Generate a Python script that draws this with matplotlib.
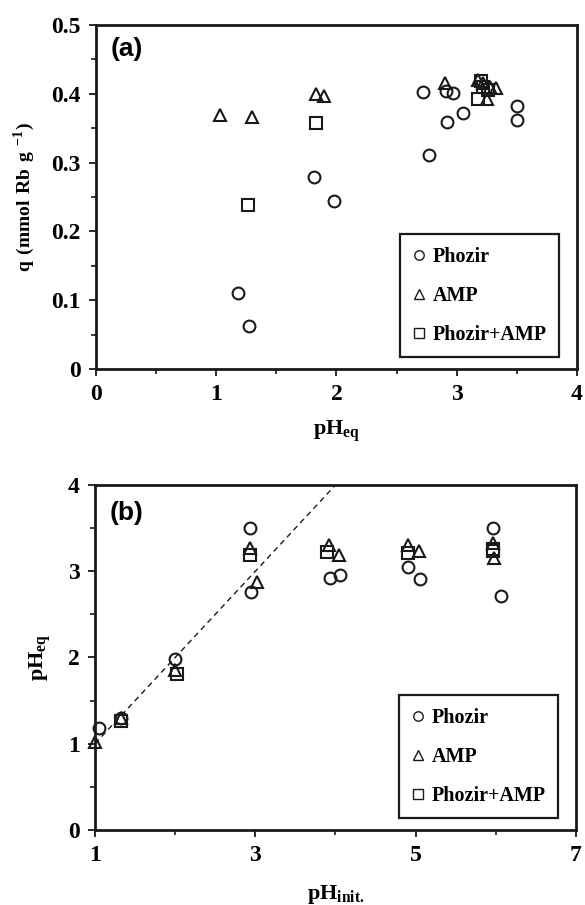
import matplotlib
matplotlib.use('Agg')
import matplotlib.pyplot as plt
from matplotlib.ticker import MultipleLocator, FixedLocator

plt.rcParams['font.family'] = ['Liberation Serif', 'DejaVu Serif']
plt.rcParams['font.weight'] = 'bold'
plt.rcParams['mathtext.fontset'] = 'custom'
plt.rcParams['mathtext.rm'] = 'Liberation Serif:bold'
plt.rcParams['mathtext.bf'] = 'Liberation Serif:bold'

# (a) uptake vs equilibrium pH
a_phozir_x = [1.18, 1.27, 1.81, 1.98, 2.72, 2.77, 2.91, 2.92, 2.97, 3.05, 3.50, 3.50]
a_phozir_y = [0.110, 0.062, 0.279, 0.244, 0.402, 0.311, 0.404, 0.359, 0.401, 0.372, 0.382, 0.362]
a_amp_x = [1.03, 1.30, 1.83, 1.90, 2.90, 3.18, 3.22, 3.28, 3.33, 3.25]
a_amp_y = [0.369, 0.366, 0.400, 0.397, 0.415, 0.420, 0.415, 0.410, 0.408, 0.392]
a_mix_x = [1.26, 1.83, 3.18, 3.22, 3.20, 3.26]
a_mix_y = [0.239, 0.358, 0.392, 0.410, 0.418, 0.405]

# (b) equilibrium pH vs initial pH
b_phozir_x = [1.05, 1.33, 2.00, 2.93, 2.95, 3.93, 4.06, 4.90, 5.05, 5.96, 6.06]
b_phozir_y = [1.18, 1.30, 1.98, 3.50, 2.76, 2.92, 2.96, 3.05, 2.91, 3.50, 2.71]
b_amp_x = [1.00, 1.33, 2.00, 2.93, 3.02, 3.92, 4.04, 4.90, 5.04, 5.96, 5.98]
b_amp_y = [1.02, 1.30, 1.86, 3.27, 2.88, 3.30, 3.19, 3.30, 3.24, 3.33, 3.15]
b_mix_x = [1.33, 2.02, 2.93, 3.90, 4.90, 5.96, 5.96]
b_mix_y = [1.26, 1.81, 3.19, 3.22, 3.21, 3.26, 3.23]
one_to_one = [1, 4]

labels = ['Phozir', 'AMP', 'Phozir+AMP']
markers = ['o', '^', 's']

fig = plt.figure(figsize=(5.85, 9.05), dpi=100)
ax1 = fig.add_axes([0.1641, 0.5923, 0.8222, 0.3801])
ax2 = fig.add_axes([0.1624, 0.0829, 0.8222, 0.3812])

mk = dict(linestyle='none', markerfacecolor='none', markeredgecolor='#1a1a1a',
          markersize=8.5, markeredgewidth=1.5)

for ax, xs, ys in [
    (ax1, [a_phozir_x, a_amp_x, a_mix_x], [a_phozir_y, a_amp_y, a_mix_y]),
    (ax2, [b_phozir_x, b_amp_x, b_mix_x], [b_phozir_y, b_amp_y, b_mix_y]),
]:
    for x, y, m, lab in zip(xs, ys, markers, labels):
        ax.plot(x, y, marker=m, label=lab, clip_on=False, **mk)

ax2.plot(one_to_one, one_to_one, linestyle=(0, (4, 3)), color='#1a1a1a', lw=1.0, zorder=1)

ax1.set_xlim(0, 4)
ax1.set_ylim(0, 0.5)
ax1.xaxis.set_major_locator(MultipleLocator(1))
ax1.xaxis.set_minor_locator(MultipleLocator(0.5))
ax1.set_yticks([0, 0.1, 0.2, 0.3, 0.4, 0.5])
ax1.set_yticklabels(['0', '0.1', '0.2', '0.3', '0.4', '0.5'])
ax1.yaxis.set_minor_locator(MultipleLocator(0.05))

ax2.set_xlim(1, 7)
ax2.set_ylim(0, 4)
ax2.xaxis.set_major_locator(FixedLocator([1, 3, 5, 7]))
ax2.xaxis.set_minor_locator(FixedLocator([2, 4, 6]))
ax2.yaxis.set_major_locator(MultipleLocator(1))
ax2.yaxis.set_minor_locator(MultipleLocator(0.5))

for ax in (ax1, ax2):
    for s in ax.spines.values():
        s.set_linewidth(2.0)
        s.set_color('#1a1a1a')
    ax.tick_params(which='major', direction='out', length=5, width=1.3,
                   labelsize=17, pad=6, color='#1a1a1a')
    ax.tick_params(which='minor', direction='out', length=3.5, width=1.2,
                   color='#1a1a1a')
    leg = ax.legend(loc='lower right', bbox_to_anchor=(0.962, 0.035),
                    borderaxespad=0, fancybox=False, edgecolor='#1a1a1a',
                    framealpha=1, prop={'size': 14.5, 'weight': 'bold'},
                    markerscale=0.8, handlelength=0.7, handletextpad=0.3,
                    labelspacing=0.95, borderpad=0.6)
    leg.get_frame().set_linewidth(1.6)
    for h in leg.legend_handles:
        h.set_markeredgewidth(1.0)

ax1.text(0.03, 0.965, '(a)', transform=ax1.transAxes, ha='left', va='top',
         fontsize=19, fontweight='bold', family='Liberation Sans')
ax2.text(0.03, 0.955, '(b)', transform=ax2.transAxes, ha='left', va='top',
         fontsize=19, fontweight='bold', family='Liberation Sans')

ax1.set_xlabel(r'$\mathbf{pH}_{\mathbf{eq}}$', fontsize=16, labelpad=10)
ax1.set_ylabel(r'$\mathbf{q\ (mmol\ Rb\ g}\ ^{\mathbf{-1}}\mathbf{)}$', fontsize=14, labelpad=10)
ax2.set_xlabel(r'$\mathbf{pH}_{\mathbf{init.}}$', fontsize=16, labelpad=12)
ax2.set_ylabel(r'$\mathbf{pH}_{\mathbf{eq}}$', fontsize=16, labelpad=10)

fig.savefig('out.png', dpi=100)
